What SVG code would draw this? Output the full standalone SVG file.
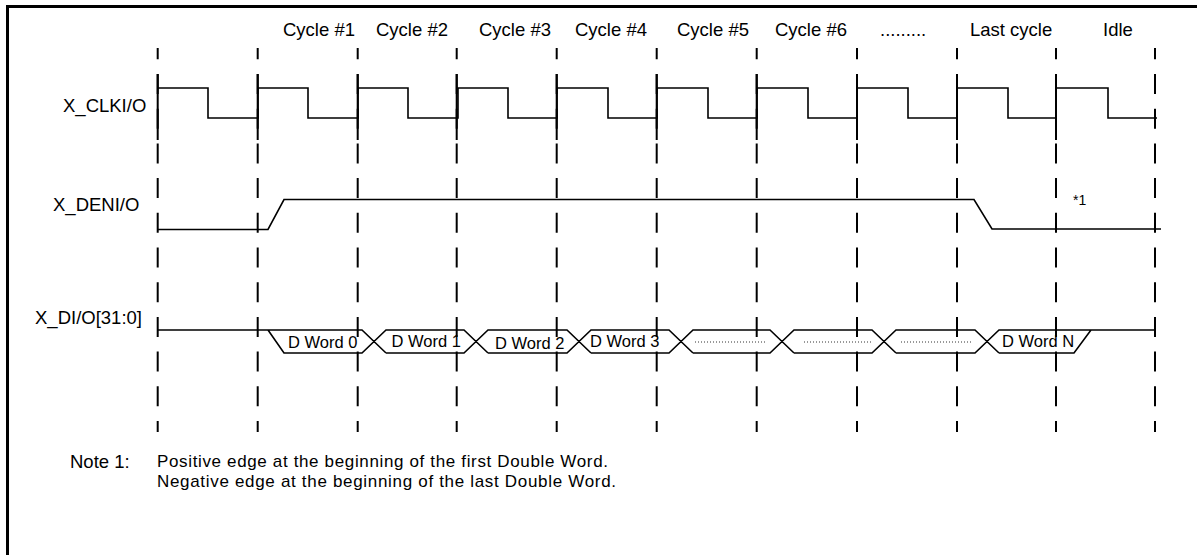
<svg xmlns="http://www.w3.org/2000/svg" width="1197" height="555" viewBox="0 0 1197 555">
<style>
  text { font-family: "Liberation Sans", Arial, sans-serif; fill: #000; }
  .lbl { font-size: 18.5px; }
  .nt { font-size: 17px; }
  .word { font-size: 16.5px; }
  .note { font-size: 14px; }
  .grid { stroke: #000; stroke-width: 2; stroke-dasharray: 20 14.7; stroke-dashoffset: 8.7; fill: none; }
  .solid { stroke: #000; stroke-width: 2; fill: none; }
  .wave { stroke: #000; stroke-width: 1.6; fill: none; stroke-linejoin: miter; }
  .dots { stroke: #333; stroke-width: 1; stroke-dasharray: 1 2; fill: none; }
</style>
<rect x="0" y="0" width="1197" height="555" fill="#fff"/>
<path d="M7.5,560 V6.5 H1200" fill="none" stroke="#000" stroke-width="3"/>

<g id="grid">
  <line class="grid" x1="157.7" y1="48" x2="157.7" y2="432"/>
  <line class="grid" x1="257.7" y1="48" x2="257.7" y2="432"/>
  <line class="grid" x1="357.7" y1="48" x2="357.7" y2="432"/>
  <line class="grid" x1="456.7" y1="48" x2="456.7" y2="432"/>
  <line class="grid" x1="556.7" y1="48" x2="556.7" y2="432"/>
  <line class="grid" x1="656.7" y1="48" x2="656.7" y2="432"/>
  <line class="grid" x1="756.7" y1="48" x2="756.7" y2="432"/>
  <line class="grid" x1="857" y1="48" x2="857" y2="432"/>
  <line class="grid" x1="957" y1="48" x2="957" y2="432"/>
  <line class="grid" x1="1056" y1="48" x2="1056" y2="432"/>
  <line class="grid" x1="1155" y1="48" x2="1155" y2="432"/>
  <path class="solid" d="M157.7,74 V140 M257.7,74 V140 M357.7,74 V140 M456.7,74 V140 M556.7,74 V140 M656.7,74 V140 M756.7,74 V140 M857,74 V140 M957,74 V140 M1056,74 V140"/>
</g>

<g id="headers">
  <text class="lbl" x="283" y="36">Cycle #1</text>
  <text class="lbl" x="376" y="36">Cycle #2</text>
  <text class="lbl" x="479" y="36">Cycle #3</text>
  <text class="lbl" x="575" y="36">Cycle #4</text>
  <text class="lbl" x="677" y="36">Cycle #5</text>
  <text class="lbl" x="775" y="36">Cycle #6</text>
  <text class="lbl" x="880" y="36">.........</text>
  <text class="lbl" x="970" y="36">Last cycle</text>
  <text class="lbl" x="1103" y="36">Idle</text>
</g>

<g id="clk">
  <text class="lbl" x="63" y="112">X_CLKI/O</text>
  <path class="wave" d="M158,88 H208 V118 H258 V88 H308 V118 H358 V88 H408 V118 H458 V88 H508 V118 H557 V88 H608 V118 H657 V88 H708 V118 H757 V88 H808 V118 H857 V88 H908 V118 H957 V88 H1008 V118 H1056 V88 H1108 V118 H1157"/>
</g>

<g id="den">
  <text class="lbl" x="53" y="210.5">X_DENI/O</text>
  <path class="wave" d="M158,229.5 H268 L284,199.5 H974 L992,229 H1161"/>
  <text class="note" x="1073" y="204.5">*1</text>
</g>

<g id="data">
  <text class="lbl" x="35" y="324">X_DI/O[31:0]</text>
  <path class="wave" d="M158,330 H362 L386,353 M268,330 L284,353 H362 L386,330 H464 L488,353 M386,353 H464 L488,330 H567 L591,353 M488,353 H567 L591,330 H669 L693,353 M591,353 H669 L693,330 H770 L794,353 M693,353 H770 L794,330 H872 L896,353 M794,353 H872 L896,330 H975 L999,353 M896,353 H975 L999,330 H1155 M999,353 H1074 L1091,330"/>
  <path class="dots" d="M695,342 H767 M804,342 H872 M901,342 H973"/>
  <text class="word" x="288" y="347.5">D Word 0</text>
  <text class="word" x="391.5" y="346.7">D Word 1</text>
  <text class="word" x="495" y="349">D Word 2</text>
  <text class="word" x="590" y="346.5">D Word 3</text>
  <text class="word" x="1002" y="346.7">D Word N</text>
</g>

<g id="notes">
  <text class="lbl" x="70" y="467.5">Note 1:</text>
  <text class="nt" x="157" y="466.5" textLength="451" lengthAdjust="spacing">Positive edge at the beginning of the first Double Word.</text>
  <text class="nt" x="157" y="486.5" textLength="459" lengthAdjust="spacing">Negative edge at the beginning of the last Double Word.</text>
</g>
</svg>
